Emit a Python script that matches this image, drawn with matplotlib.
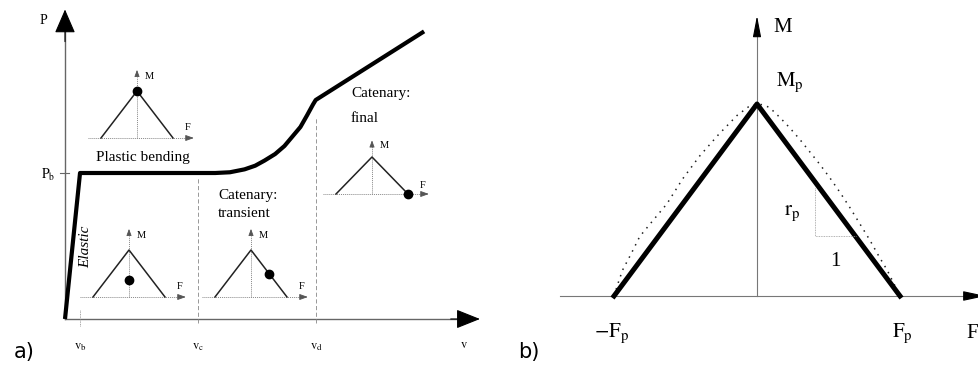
import matplotlib
matplotlib.use("Agg")
import matplotlib.pyplot as plt

plt.rcParams["font.family"] = ["Liberation Serif", "DejaVu Serif"]
plt.rcParams["mathtext.fontset"] = "stix"

W, H = 979, 367

# panel a): load-displacement response (v in units of v_c, P in units of P_b)
v_curve = [0.0, 0.113, 0.40, 0.99, 1.13, 1.24, 1.35, 1.43, 1.50, 1.58, 1.65, 1.71,
           1.77, 1.82, 1.865, 1.885, 2.70]
P_curve = [0.0, 1.00, 1.00, 1.00, 1.00, 1.005, 1.025, 1.05, 1.085, 1.13, 1.185, 1.25,
           1.315, 1.395, 1.47, 1.50, 1.97]
v_marks = [0.113, 1.0, 1.89]
v_labels = [r"$\mathrm{v_b}$", r"$\mathrm{v_c}$", r"$\mathrm{v_d}$"]
P_b = 1.0

# M-F state of each stage (F/Fp, M/Mp)
stage_F = [0.0, 0.0, 0.5, 1.0]
stage_M = [1.0, 0.36, 0.49, 0.0]

# panel b): plastic interaction, linearised and exact
lin_F = [-1.0, 0.0, 1.0]
lin_M = [0.0, 1.0, 0.0]
exact_F = [-1.0, -0.97, -0.94, -0.88, -0.82, -0.72, -0.63, -0.52, -0.40, -0.27, -0.14, -0.06, 0.0,
           0.05, 0.09, 0.16, 0.23, 0.30, 0.37, 0.44, 0.51, 0.58, 0.65, 0.72, 0.79, 0.85, 0.91, 0.96, 1.0]
exact_M = [0.0, 0.07, 0.135, 0.22, 0.31, 0.40, 0.48, 0.61, 0.73, 0.84, 0.94, 0.985, 1.0,
           0.995, 0.98, 0.93, 0.875, 0.815, 0.75, 0.685, 0.615, 0.54, 0.46, 0.375, 0.29, 0.21, 0.135, 0.06, 0.0]
slope_F = [0.405, 0.405, 0.69]
slope_M = [0.56, 0.31, 0.31]


def px_box(x0, y0, x1, y1):
    return [x0 / W, 1 - y1 / H, (x1 - x0) / W, (y1 - y0) / H]


def ftext(x, y, s, **kw):
    kw.setdefault("ha", "center")
    kw.setdefault("va", "center")
    fig.text(x / W, 1 - y / H, s, **kw)


def arrow(ax, x0, y0, x1, y1, hl, hw, color="black", lw=0.8):
    ax.annotate("", xy=(x1, y1), xytext=(x0, y0),
                arrowprops=dict(arrowstyle=f"-|>,head_length={hl},head_width={hw}",
                                color=color, lw=lw, shrinkA=0, shrinkB=0),
                annotation_clip=False)


def draw_state(apex_x, apex_y, base_y, F, M):
    half = 36.0
    h = base_y - apex_y
    ax = fig.add_axes(px_box(apex_x - 60, apex_y - 32, apex_x + 70, base_y + 8))
    ax.set_xlim(-60 / half, 70 / half)
    ax.set_ylim(-8 / h, (h + 32) / h)
    ax.axis("off")
    ax.patch.set_alpha(0)
    ax.plot([-1.35, 1.45], [0, 0], color="#888888", lw=0.7, ls=(0, (1, 1)))
    arrow(ax, 1.40, 0, 1.58, 0, 0.5, 0.18, color="#555555", lw=0.6)
    ax.plot([0, 0], [0, 1.30], color="#888888", lw=0.7, ls=(0, (1, 1)))
    arrow(ax, 0, 1.33, 0, 1.45, 0.4, 0.15, color="#555555", lw=0.6)
    ax.plot([-1, 0, 1], [0, 1, 0], color="#222222", lw=1.1)
    ax.plot([F], [M], "o", color="black", ms=6)
    ax.text(0.22, 1.30, "M", fontsize=7.5, ha="left", va="center")
    ax.text(1.40, 0.22, "F", fontsize=7.5, ha="center", va="center")


fig = plt.figure(figsize=(W / 100, H / 100), dpi=100)

# ---- panel a)
ax_a = fig.add_axes(px_box(0, 0, 500, H))
ax_a.set_xlim(-65 / 133, 435 / 133)
ax_a.set_ylim(-48 / 146, 319 / 146)
ax_a.axis("off")

ax_a.plot([0, 0], [0, 1.98], color="#666666", lw=1.0)
arrow(ax_a, 0, 1.90, 0, 2.12, 1.5, 0.65)
ax_a.plot([0, 3.0], [0, 0], color="#666666", lw=1.0)
arrow(ax_a, 2.90, 0, 3.12, 0, 1.5, 0.6)
ax_a.plot([-0.04, 0.03], [P_b, P_b], color="#666666", lw=0.8)

ax_a.plot([v_marks[0]] * 2, [-0.05, 0.06], color="#888888", lw=0.6, ls=(0, (1, 1)))
ax_a.plot([v_marks[1]] * 2, [-0.03, 0.97], color="#888888", lw=0.6, ls=(0, (5, 3)))
ax_a.plot([v_marks[2]] * 2, [-0.03, 1.38], color="#888888", lw=0.6, ls=(0, (5, 3)))

ax_a.plot(v_curve, P_curve, color="black", lw=3.0, solid_capstyle="butt", solid_joinstyle="round")

for xv, lab in zip(v_marks, v_labels):
    ax_a.text(xv, -0.19, lab, fontsize=9, ha="center", va="center")
ax_a.text(3.00, -0.18, r"$\mathrm{v}$", fontsize=9, ha="center", va="center")
ftext(43, 21, "P", fontsize=10)
ftext(48, 175, r"$\mathrm{P_b}$", fontsize=10)

ftext(143, 158, "Plastic bending", fontsize=11)
ftext(86, 247, "Elastic", fontsize=11, style="italic", rotation=90)
ftext(218, 196, "Catenary:", fontsize=11, ha="left")
ftext(218, 214, "transient", fontsize=11, ha="left")
ftext(351, 94, "Catenary:", fontsize=11, ha="left")
ftext(351, 119, "final", fontsize=11, ha="left")

ftext(24, 352, "a)", fontsize=15, family="DejaVu Sans")
ftext(529, 352, "b)", fontsize=15, family="DejaVu Sans")

for (ax_, ay_, by_), F, M in zip([(137, 91, 138), (129, 250, 297), (251, 250, 297), (372, 157, 194)],
                                 stage_F, stage_M):
    draw_state(ax_, ay_, by_, F, M)

# ---- panel b)
ax_b = fig.add_axes(px_box(540, 0, W, H))
ax_b.set_xlim(-217 / 143, 222 / 143)
ax_b.set_ylim(-71 / 192, 296 / 192)
ax_b.axis("off")

ax_b.plot([-1.38, 1.50], [0, 0], color="#777777", lw=0.8)
arrow(ax_b, 1.45, 0, 1.60, 0, 1.4, 0.3)
ax_b.plot([0, 0], [0, 1.40], color="#777777", lw=0.8)
arrow(ax_b, 0, 1.36, 0, 1.46, 1.3, 0.25)

ax_b.plot(exact_F, exact_M, color="#222222", lw=1.1, ls=(0, (1, 3.5)))
ax_b.plot(lin_F, lin_M, color="black", lw=3.6, solid_joinstyle="round")
ax_b.plot(slope_F, slope_M, color="#999999", lw=0.6, ls=(0, (1, 1)))

ftext(783, 28, "M", fontsize=15)
ftext(790, 82, r"$\mathrm{M_p}$", fontsize=15)
ftext(792, 213, r"$\mathrm{r_p}$", fontsize=15)
ftext(835, 262, "1", fontsize=15)
ftext(612, 333, r"$\mathrm{-F_p}$", fontsize=15)
ftext(902, 333, r"$\mathrm{F_p}$", fontsize=15)
ftext(978, 333, "F", fontsize=15, ha="right")

fig.savefig("out.png", dpi=100)
